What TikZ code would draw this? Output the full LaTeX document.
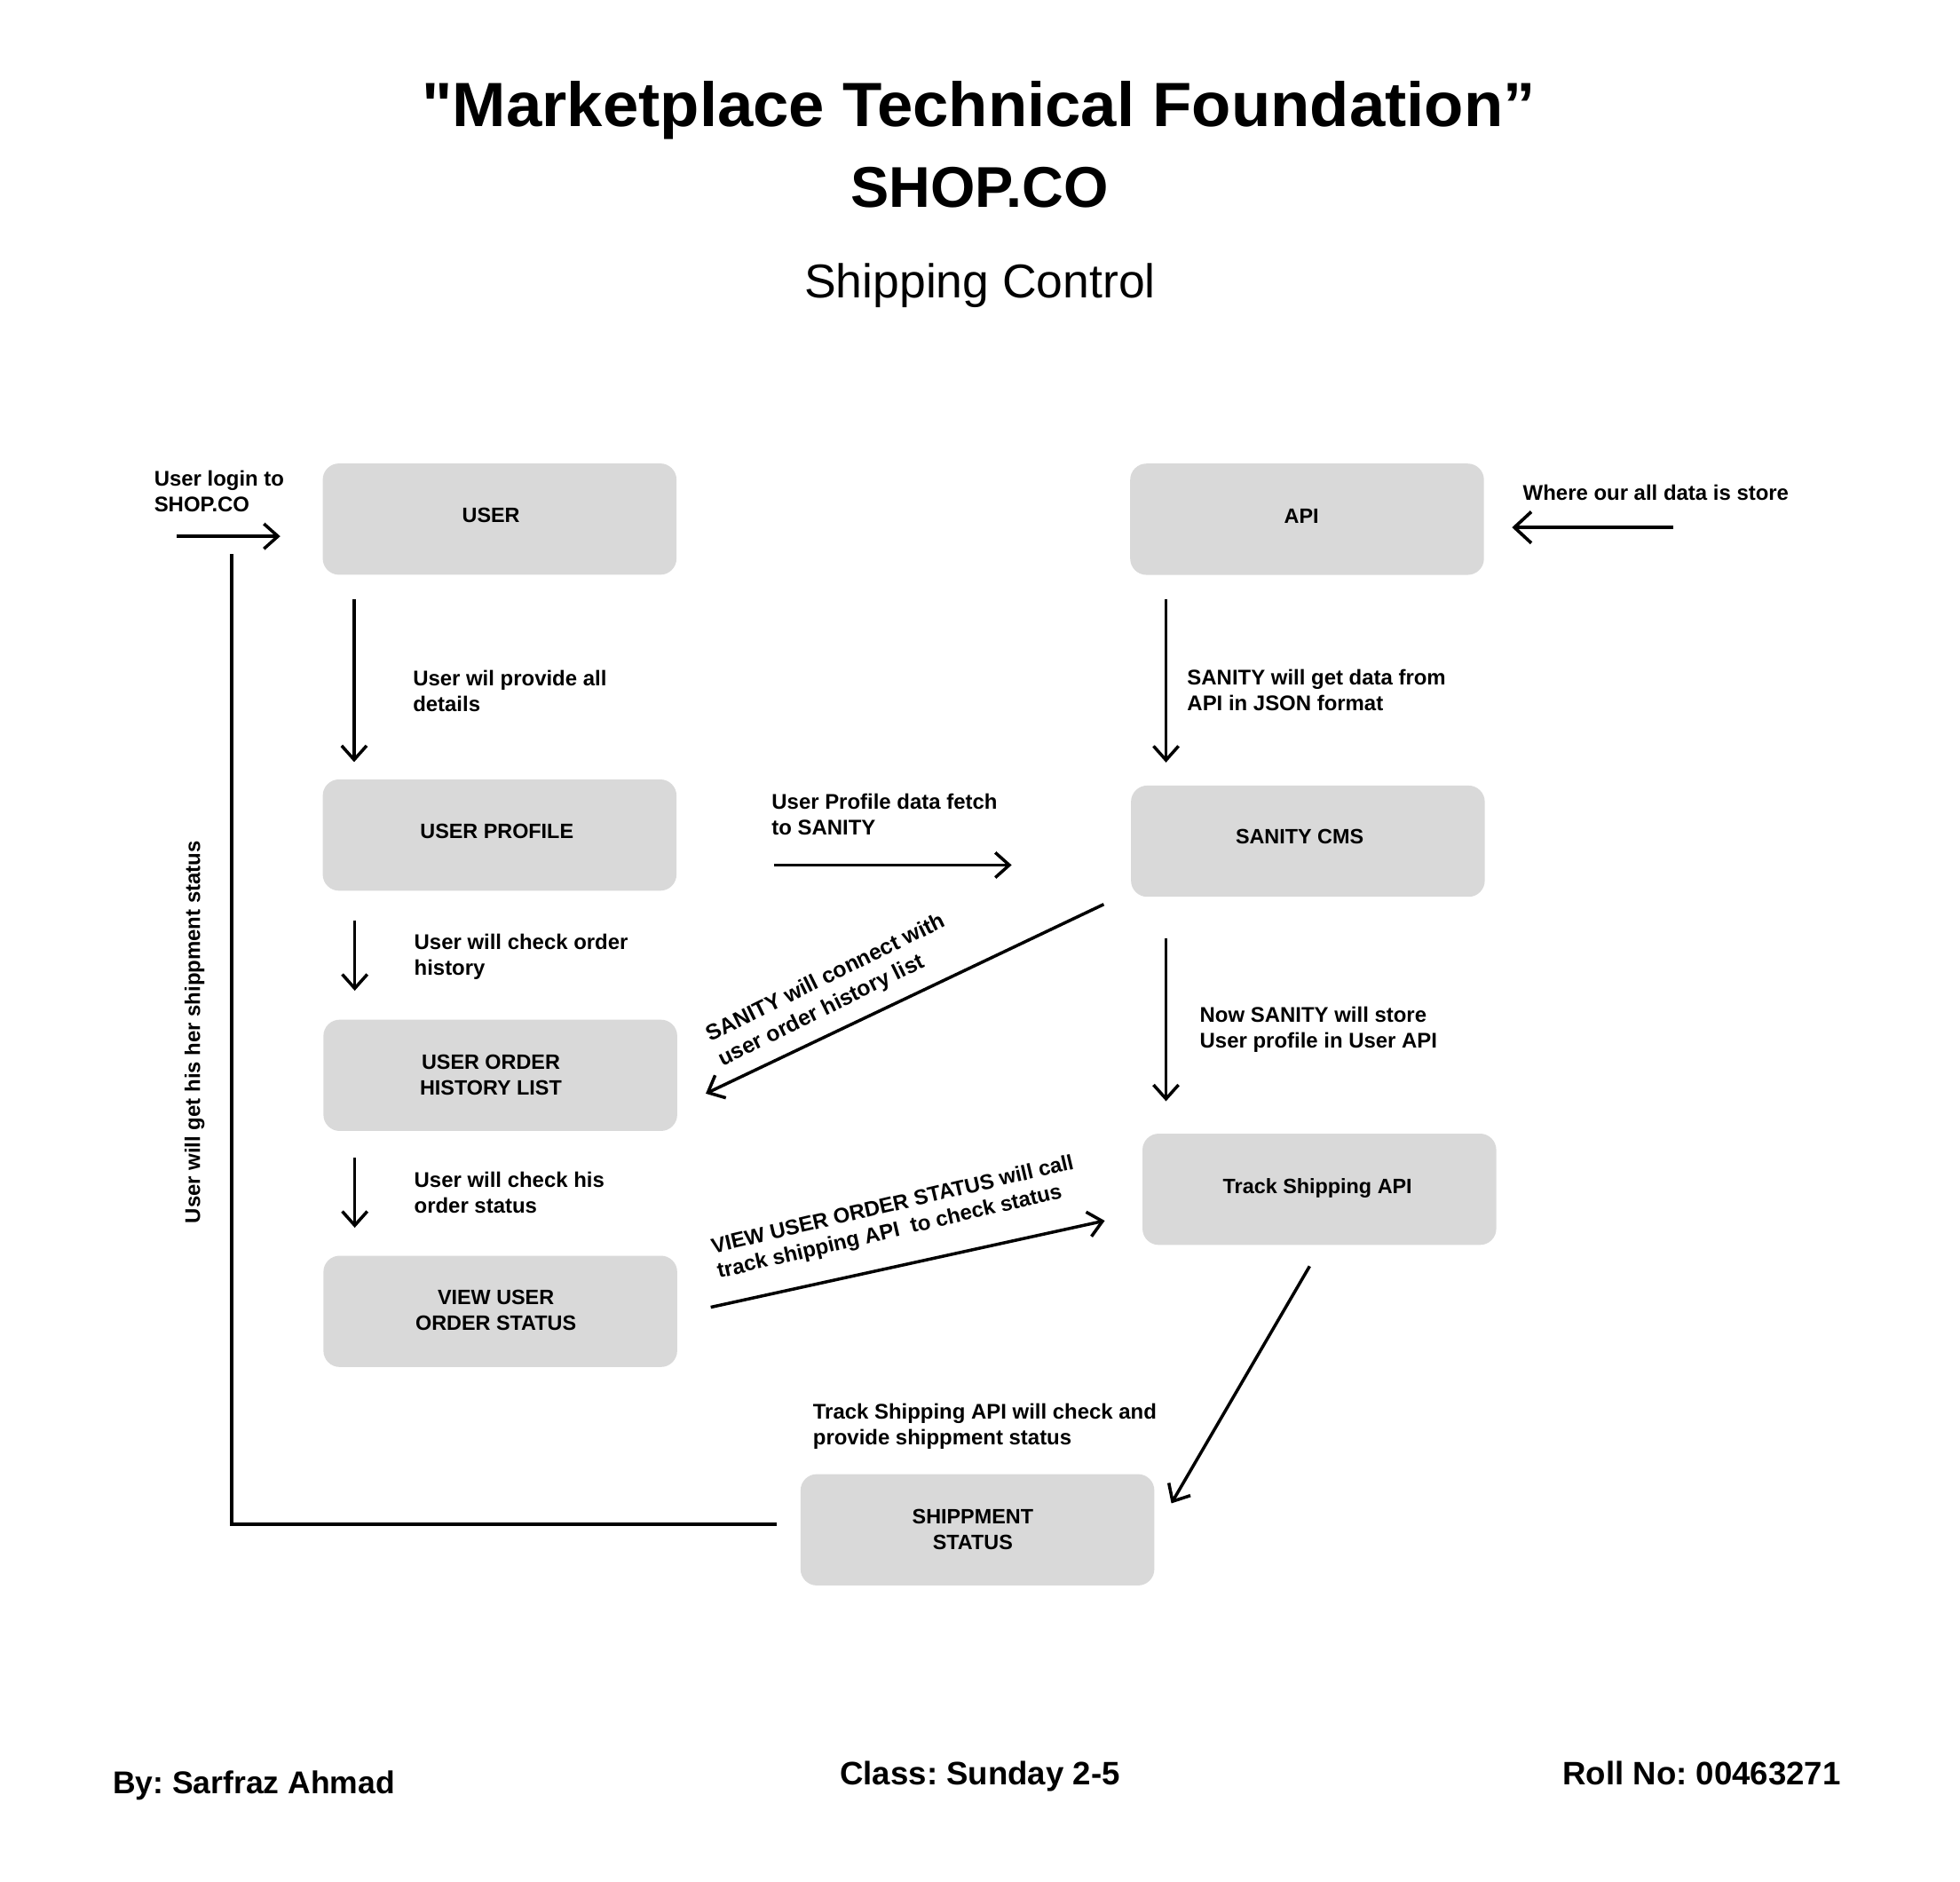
\documentclass[tikz,border=0pt]{standalone}
\usepackage{fontspec}
\setmainfont{Liberation Sans}
\newfontfamily\qfont{Liberation Sans}
\usepackage{graphicx}
\usetikzlibrary{arrows.meta,calc}
\definecolor{boxgray}{HTML}{D9D9D9}
\newcommand{\mlines}[2][l]{\begin{tabular}[t]{@{}#1@{}}#2\end{tabular}}
\frenchspacing
\begin{document}
\begin{tikzpicture}[x=0.5pt,y=0.5pt,
  box/.style={rectangle, fill=boxgray, rounded corners=6.5pt, minimum width=141.5pt, minimum height=44.5pt, inner sep=0pt},
  boxlabel/.style={inner sep=0pt, font=\fontsize{8.3}{10.3}\selectfont\bfseries, anchor=base},
  annot/.style={inner sep=0pt, font=\fontsize{8.5}{10.2}\selectfont\bfseries, anchor=base west},
  foot/.style={inner sep=0pt, font=\fontsize{13}{16}\selectfont\bfseries},
  arr/.style={line width=1.25pt, -{Straight Barb[length=5.6pt,width=10pt]}},
  bigarr/.style={line width=1.3pt, -{Straight Barb[length=6.75pt,width=12.5pt]}},
  backline/.style={line width=1.4pt}]
\fill[white] (0,0) rectangle (1568,-1505.5);
\useasboundingbox (0,0) rectangle (1568,-1505.5);

% titles
\node[inner sep=0pt, anchor=base, font=\fontsize{25}{30}\selectfont\bfseries] (title) at (783,-101.3) {\scalebox{1.03}[1]{{\qfont\bfseries "}Marketplace Technical Foundation”}};
\node[inner sep=0pt, anchor=base, font=\fontsize{23}{28}\selectfont\bfseries] (shop) at (783.7,-165.7) {SHOP.CO};
\node[inner sep=0pt, anchor=base, font=\fontsize{19}{23}\selectfont] (sub) at (784,-238) {Shipping Control};

% boxes
\node[box] (user) at (399.7,-415.25) {};
\node[box] (api) at (1045.65,-415.35) {};
\node[box] (profile) at (399.7,-668) {};
\node[box] (sanity) at (1046.3,-672.9) {};
\node[box] (history) at (400.25,-860.2) {};
\node[box] (track) at (1055.5,-951.35) {};
\node[box] (view) at (400.25,-1049) {};
\node[box] (shipment) at (781.95,-1223.75) {};

% box labels
\node[boxlabel] (userL) at (392.8,-418) {USER};
\node[boxlabel] (apiL) at (1041.2,-418.5) {API};
\node[boxlabel] (profileL) at (397.5,-670.7) {USER PROFILE};
\node[boxlabel] (sanityL) at (1039.7,-675) {SANITY CMS};
\node[boxlabel] (historyL) at (392.7,-855) {\mlines[c]{USER ORDER\\HISTORY LIST}};
\node[boxlabel] (trackL) at (1054,-954.9) {Track Shipping API};
\node[boxlabel] (viewL) at (396.7,-1043.6) {\mlines[c]{VIEW USER\\ORDER STATUS}};
\node[boxlabel] (shipL) at (778.2,-1218.6) {\mlines[c]{SHIPPMENT\\STATUS}};

% annotations
\node[annot] (loginL) at (123,-389) {\mlines{User login to\\SHOP.CO}};
\node[annot] (whereL) at (1218,-400) {Where our all data is store};
\node[annot] (provideL) at (330,-548.8) {\mlines{User wil provide all\\details}};
\node[annot] (getL) at (949.4,-548) {\mlines{SANITY will get data from\\API in JSON format}};
\node[annot] (fetchL) at (617,-647.3) {\mlines{User Profile data fetch\\to SANITY}};
\node[annot] (orderL) at (331,-759.4) {\mlines{User will check order\\history}};
\node[annot] (storeL) at (959.5,-818) {\mlines{Now SANITY will store\\User profile in User API}};
\node[annot] (hisL) at (331,-949.9) {\mlines{User will check his\\order status}};
\node[annot] (checkL) at (650,-1135.4) {\mlines{Track Shipping API will check and\\provide shippment status}};
\node[annot, rotate=26.2, font=\fontsize{8.8}{11}\selectfont\bfseries] (connL) at (568.2,-833.5) {\mlines{SANITY will connect with\\user order history list}};
\node[annot, rotate=13.2] (callL) at (570.3,-1002.8) {\mlines{VIEW USER ORDER STATUS will call\\track shipping API~ to check status}};
\node[annot, rotate=90, anchor=base] (backL) at (160,-825.7) {User will get his her shippment status};

% footer
\node[foot, anchor=base west, font=\fontsize{12.6}{15}\selectfont\bfseries] (byL) at (90,-1434.7) {By: Sarfraz Ahmad};
\node[foot, anchor=base] (classL) at (784,-1427.5) {Class: Sunday 2-5};
\node[foot, anchor=base east] (rollL) at (1473,-1427.5) {Roll No: 00463271};

% connectors
\draw[arr] ($(user.west)+(-116.2,-13.75)$) -- ($(user.west)+(-33.6,-13.75)$);
\draw[bigarr] ($(api.east)+(150.85,-6.55)$) -- ($(api.east)+(22.05,-6.55)$);
\draw[arr] ($(user.south west)+(25.5,-18.95)$) -- ($(profile.north west)+(25.5,13.5)$);
\draw[arr] ($(api.south west)+(29.05,-18.85)$) -- ($(sanity.north west)+(28.4,18.1)$);
\draw[arr] ($(profile.east)+(77.8,-24)$) -- ($(sanity.west)+(-95.1,-19.1)$);
\draw[arr] ($(profile.south west)+(26,-23.3)$) -- ($(history.north west)+(25.45,22.8)$);
\draw[arr] ($(sanity.south west)+(-21.4,-5.6)$) -- ($(history.east)+(22.45,-14.6)$);
\draw[arr] ($(sanity.south west)+(28.4,-32.6)$) -- ($(track.north west)+(19.2,25.55)$);
\draw[arr] ($(history.south west)+(25.45,-21.2)$) -- ($(view.north west)+(25.45,22)$);
\draw[arr] ($(view.east)+(26.45,3.3)$) -- ($(track.west)+(-29.8,-25.15)$);
\draw[arr] ($(track.south)+(-7.8,-16.65)$) -- ($(shipment.east)+(13.25,21.15)$);
\draw[backline] ($(shipment.west)+(-18.45,4.75)$) -| ($(user.west)+(-72.2,-27.75)$);
\end{tikzpicture}
\end{document}
